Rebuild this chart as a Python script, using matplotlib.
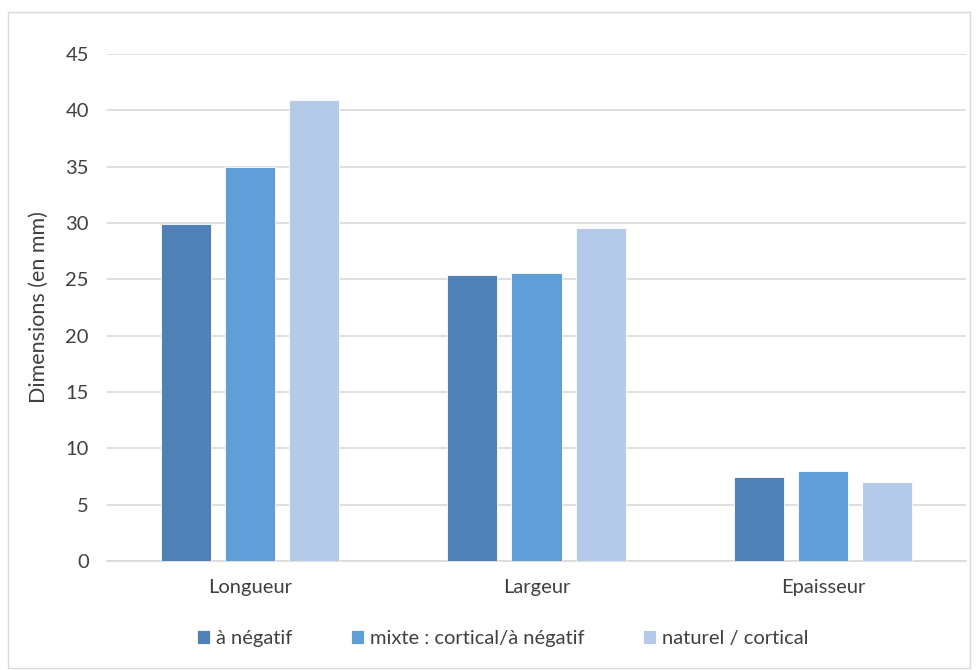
import matplotlib.pyplot as plt
import numpy as np
from matplotlib.patches import Rectangle

categories = ['Longueur', 'Largeur', 'Epaisseur']
series_names = ['à négatif', 'mixte : cortical/à négatif', 'naturel / cortical']
a_negatif = [29.9, 25.4, 7.45]
mixte = [35.0, 25.6, 8.0]
naturel = [40.9, 29.55, 7.0]
colors = ['#4F81B7', '#5F9ED6', '#B4CAE8']

plt.rcParams['font.family'] = ['Lato', 'DejaVu Sans']

fig = plt.figure(figsize=(9.76, 6.7), dpi=100)
ax = fig.add_axes([0.1096, 0.1627, 0.8802, 0.7567])

x = np.arange(len(categories))
width = 0.175
step = 0.224
for i, (vals, name) in enumerate(zip([a_negatif, mixte, naturel], series_names)):
    ax.bar(x + (i - 1) * step, vals, width, color=colors[i], label=name,
           edgecolor='white', linewidth=0.6, zorder=3)

ax.set_xlim(-0.5, 2.5)
ax.set_ylim(0, 45)
ax.set_yticks(range(0, 46, 5))
ax.set_xticks(x)
ax.set_xticklabels(categories)
ax.tick_params(axis='both', length=0, labelsize=14.5, colors='#404040')
ax.tick_params(axis='x', pad=13)
ax.tick_params(axis='y', pad=13)
ax.grid(axis='y', color='#D9D9D9', linewidth=1.2, zorder=0)
for s in ['top', 'right', 'left']:
    ax.spines[s].set_visible(False)
ax.spines['bottom'].set_color('#D9D9D9')
ax.spines['bottom'].set_linewidth(1.2)
ax.set_ylabel('Dimensions (en mm)', fontsize=15.5, color='#404040', labelpad=12)

fig.legend(loc='center', bbox_to_anchor=(0.515, 0.047), ncol=3, frameon=False,
           fontsize=14.5, handlelength=0.65, handleheight=0.65, handletextpad=0.3,
           columnspacing=2.9, labelcolor='#404040')

fig.patches.append(Rectangle((0.008, 0.003), 0.986, 0.979, transform=fig.transFigure,
                             fill=False, edgecolor='#D9D9D9', linewidth=1))

fig.savefig('out.png', dpi=100)
